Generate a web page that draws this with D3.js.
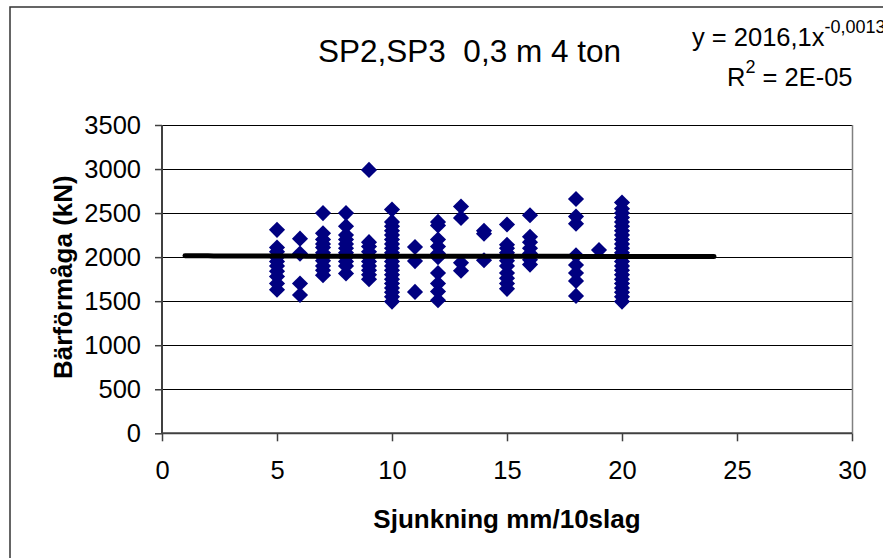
<!DOCTYPE html>
<html><head><meta charset="utf-8">
<script src="https://cdn.jsdelivr.net/npm/d3@7"></script>
<style>
html,body{margin:0;padding:0;background:#fff;}
svg{display:block;font-family:"Liberation Sans",Arial,sans-serif;}
text{white-space:pre;}
</style></head>
<body>
<svg id="chart" width="883" height="558"></svg>
<script>
// ---- data ----
const titleText = "SP2,SP3  0,3 m 4 ton";
const xTitle = "Sjunkning mm/10slag";
const yTitle = "Bärförmåga (kN)";
const xTicks = [0, 5, 10, 15, 20, 25, 30];
const yTicks = [0, 500, 1000, 1500, 2000, 2500, 3000, 3500];
const columnsX = [5, 6, 7, 8, 9, 10, 11, 12, 13, 14, 15, 16, 18, 19, 20];
const col5  = [2310, 2110, 2060, 2000, 1950, 1900, 1840, 1780, 1700, 1630];
const col6  = [2210, 2040, 1700, 1570];
const col7  = [2500, 2270, 2200, 2150, 2110, 2050, 2000, 1960, 1900, 1850, 1795];
const col8  = [2500, 2350, 2250, 2200, 2150, 2100, 2050, 2000, 1950, 1900, 1815];
const col9  = [2990, 2170, 2120, 2060, 2000, 1950, 1900, 1850, 1800, 1750];
const col10 = [2540, 2400, 2350, 2300, 2250, 2200, 2150, 2100, 2050, 2000, 1950, 1900, 1850, 1800, 1750, 1700, 1650, 1600, 1550, 1495];
const col11 = [2115, 1955, 1605];
const col12 = [2400, 2360, 2200, 2120, 2040, 2000, 1820, 1700, 1610, 1510];
const col13 = [2575, 2445, 1935, 1845];
const col14 = [2300, 2265, 1965];
const col15 = [2370, 2140, 2100, 2050, 2000, 1960, 1900, 1820, 1760, 1700, 1640];
const col16 = [2475, 2230, 2170, 2100, 2040, 1970, 1915];
const col18 = [2660, 2460, 2380, 2020, 1910, 1820, 1730, 1560];
const col19 = [2080];
const col20 = [2620, 2550, 2500, 2450, 2400, 2350, 2300, 2250, 2200, 2150, 2100, 2050, 2000, 1950, 1900, 1850, 1800, 1750, 1700, 1650, 1600, 1550, 1495];
const columnsY = [col5, col6, col7, col8, col9, col10, col11, col12, col13, col14, col15, col16, col18, col19, col20];
// power trendline y = a * x^b, drawn over the x range below
const trendA = 2016.1;
const trendB = -0.0013;
const trendRange = [1, 24];
const eqMain = "y = 2016,1x";
const eqExp = "-0,0013";
const r2Label = "R";
const r2Sup = "2";
const r2Value = " = 2E-05";

// ---- layout ----
const svg = d3.select("#chart");
const plot = {left: 162, right: 852, top: 125, bottom: 433.3};
const x = d3.scaleLinear().domain([0, 30]).range([plot.left, plot.right]);
const y = d3.scaleLinear().domain([0, 3500]).range([plot.bottom, plot.top]);

// outer chart border
svg.append("rect").attr("x", 10).attr("y", 7).attr("width", 920).attr("height", 600)
  .attr("fill", "#fff").attr("stroke", "#333").attr("stroke-width", 1.5);

// gridlines
svg.append("g").selectAll("line").data(yTicks.filter(d => d > 0)).join("line")
  .attr("x1", plot.left).attr("x2", plot.right)
  .attr("y1", d => Math.round(y(d)) + 0.5).attr("y2", d => Math.round(y(d)) + 0.5)
  .attr("stroke", "#000").attr("stroke-width", 1);
// right plot border
svg.append("line").attr("x1", plot.right + 0.5).attr("x2", plot.right + 0.5)
  .attr("y1", plot.top).attr("y2", plot.bottom).attr("stroke", "#808080").attr("stroke-width", 1.5);

// axes
const xAxis = d3.axisBottom(x).tickValues(xTicks).tickFormat(d3.format("d")).tickSize(8).tickPadding(20);
const yAxis = d3.axisLeft(y).tickValues(yTicks).tickFormat(d3.format("d")).tickSize(7).tickPadding(14);
const gx = svg.append("g").attr("transform", `translate(0,${plot.bottom})`).call(xAxis);
const gy = svg.append("g").attr("transform", `translate(${plot.left},0)`).call(yAxis);
[gx, gy].forEach(g => {
  g.select(".domain").attr("stroke", "#404040").attr("stroke-width", 2);
  g.selectAll(".tick line").attr("stroke", "#404040").attr("stroke-width", 1.5);
  g.selectAll("text").attr("font-size", "25.5px").attr("fill", "#000")
    .attr("font-family", '"Liberation Sans",Arial,sans-serif');
});
gx.select(".domain").attr("d", `M${plot.left},0H${plot.right}`);
gy.select(".domain").attr("d", `M0,${plot.bottom}V${plot.top}`);
gx.selectAll("text").attr("dy", "0.71em");
gy.selectAll("text").attr("dy", "0.34em");

// points
const pts = [];
columnsX.forEach((cx, i) => columnsY[i].forEach(v => pts.push([cx, v])));
const diamond = d3.symbol().type(d3.symbolSquare).size(130);
svg.append("g").selectAll("path").data(pts).join("path")
  .attr("d", diamond)
  .attr("transform", d => `translate(${x(d[0])},${y(d[1])}) rotate(45)`)
  .attr("fill", "#000080");

// trendline
const trendX = d3.range(trendRange[0], trendRange[1] + 0.001, 0.25);
const line = d3.line().x(d => x(d)).y(d => y(trendA * Math.pow(d, trendB)));
svg.append("path").datum(trendX).attr("d", line)
  .attr("fill", "none").attr("stroke", "#000").attr("stroke-width", 5).attr("stroke-linecap", "round");

// title
svg.append("text").attr("x", 469.5).attr("y", 62).attr("text-anchor", "middle")
  .attr("font-size", "31.5px").attr("xml:space", "preserve").text(titleText);

// axis titles
svg.append("text").attr("x", (plot.left + plot.right) / 2).attr("y", 528)
  .attr("text-anchor", "middle").attr("font-size", "26px").attr("font-weight", "bold").text(xTitle);
svg.append("text").attr("transform", `translate(72,${(plot.top + plot.bottom) / 2 - 2}) rotate(-90)`)
  .attr("text-anchor", "middle").attr("font-size", "26px").attr("font-weight", "bold").text(yTitle);

// equation
const eq = svg.append("text").attr("x", 692).attr("y", 46).attr("font-size", "25.5px");
eq.append("tspan").text(eqMain);
eq.append("tspan").attr("dy", -13).attr("font-size", "18px").text(eqExp);
const r2 = svg.append("text").attr("x", 727).attr("y", 86).attr("font-size", "25.5px");
r2.append("tspan").text(r2Label);
r2.append("tspan").attr("dy", -13).attr("font-size", "18px").text(r2Sup);
r2.append("tspan").attr("dy", 13).text(r2Value);
</script>
</body></html>
